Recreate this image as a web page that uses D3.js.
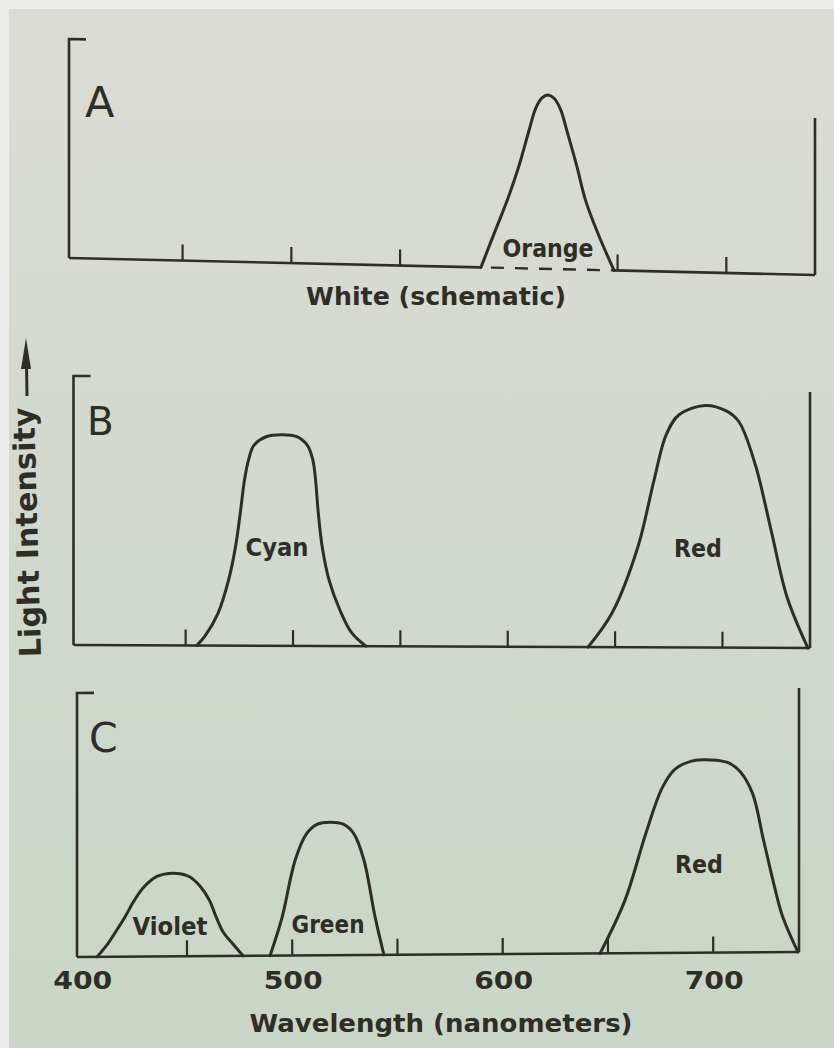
<!DOCTYPE html>
<html>
<head>
<meta charset="utf-8">
<script src="https://cdn.jsdelivr.net/npm/d3@7"></script>
<style>
  html, body { margin: 0; padding: 0; background: #d4d9cf; }
  svg { display: block; }
  text { font-family: "DejaVu Sans", sans-serif; fill: #2e2e27; }
</style>
</head>
<body>
<div id="chart"></div>
<script>
// wavelength axis (nanometers)
var wavelengthDomain = [398, 741];
var ticksA = [450, 500, 550, 650, 700];
var ticksBC = [450, 500, 550, 600, 650, 700];
var wavelengthLabels = [400, 500, 600, 700];

// curves: [wavelength nm, intensity in % of panel height]
var orangeA = [[587.4, 0], [593.9, 16.7], [599.8, 31.7], [604.9, 46.8], [609.5, 63], [612.5, 73],
  [615.5, 78], [618.2, 79.4], [621, 78], [624, 73], [627, 63], [631.6, 46.8], [635.5, 31.7],
  [641.2, 16.7], [648.6, 0]];
var cyanB = [[455.4, 0], [459.2, 3.5], [465.3, 12], [470.3, 24.6], [473.5, 37], [475.7, 49.5],
  [477.7, 62], [479.5, 69], [482, 74.5], [488, 77.8], [495.1, 78.5], [502, 77.8], [507, 74.5],
  [509.5, 69], [510.7, 62], [512, 49.5], [513.8, 37], [517, 24.6], [522, 13.5], [527.5, 5],
  [534.2, 0]];
var redB = [[637.6, 0], [648.8, 12.7], [660.9, 37.5], [668.4, 62.3], [674, 79], [680, 86.5],
  [692.1, 90], [702, 88], [707.9, 84], [715.4, 68.4], [722.9, 43.7], [730.3, 18.9], [740, 0]];
var violetC = [[407.5, 0], [412.7, 5], [416, 9], [420.8, 15], [425, 21], [430, 26.5], [436, 30.3],
  [443.6, 31.5], [451, 30.3], [456.5, 26.5], [461, 21], [464, 15], [467.5, 9], [471.6, 5],
  [476.9, 0]];
var greenC = [[489.7, 0], [495.4, 14.4], [501.6, 36], [507, 46], [512, 49.6], [518.2, 50.4],
  [524.5, 49.6], [529.5, 46], [534.3, 36], [539.6, 14.4], [543.8, 0]];
var redC = [[646.5, 0], [658.3, 20], [668.3, 45.5], [676, 62.5], [682, 69.5], [690, 72.6],
  [699, 73], [707, 72], [713, 68.5], [719, 60], [724, 43], [729, 26], [733, 14], [740.5, 0]];

var svgWidth = 834;
var svgHeight = 1048;
var ink = "#2e2e27";

var svg = d3.select("#chart")
  .append("svg")
    .attr("width", svgWidth)
    .attr("height", svgHeight);

// paper
var grad = svg.append("defs").append("linearGradient")
  .attr("id", "paper").attr("x1", 0).attr("y1", 0).attr("x2", 0).attr("y2", 1);
grad.append("stop").attr("offset", "0%").attr("stop-color", "#dbdcd6");
grad.append("stop").attr("offset", "45%").attr("stop-color", "#d3d9cf");
grad.append("stop").attr("offset", "100%").attr("stop-color", "#cad5c7");
svg.append("rect").attr("width", svgWidth).attr("height", svgHeight).attr("fill", "url(#paper)");
svg.append("rect").attr("width", svgWidth).attr("height", 9).attr("fill", "#ececea");
svg.append("rect").attr("width", 9).attr("height", svgHeight).attr("fill", "#ececea");

var panels = [
  {name: "A", x0: 69, x1: 815, base0: 258, base1: 275, top: 39, topRight: 118, ticks: ticksA,
    curves: [orangeA], dashed: orangeA,
    letter: {x: 85, y: 117, size: 43}},
  {name: "B", x0: 73.5, x1: 810, base0: 645, base1: 648, top: 376, topRight: 392, ticks: ticksBC,
    curves: [cyanB, redB], dashed: null,
    letter: {x: 87, y: 435, size: 39}},
  {name: "C", x0: 77, x1: 799, base0: 957, base1: 952, top: 693, topRight: 688, ticks: ticksBC,
    curves: [violetC, greenC, redC], dashed: null,
    letter: {x: 89, y: 752, size: 41}}
];

panels.forEach(function(p) {
  var w = p.x1 - p.x0;
  var h = p.base0 - p.top;
  var x = d3.scaleLinear().domain(wavelengthDomain).range([0, w]);
  var y = d3.scaleLinear().domain([0, 100]).range([0, -h]);
  var tilt = Math.atan((p.base1 - p.base0) / w) * 180 / Math.PI;

  var g = svg.append("g")
    .attr("transform", `translate(${p.x0}, ${p.base0}) skewY(${tilt})`);

  // bracket on the left, right edge
  g.append("path")
    .attr("d", `M17,${-h} H0 V0`)
    .attr("fill", "none").attr("stroke", ink).attr("stroke-width", 2.6);
  g.append("line")
    .attr("x1", w).attr("x2", w)
    .attr("y1", 0).attr("y2", p.topRight - p.base1)
    .attr("stroke", ink).attr("stroke-width", 2.6);

  // baseline (dashed under the orange band in A)
  if (p.dashed) {
    var a = p.dashed[0][0], b = p.dashed[p.dashed.length - 1][0];
    [[wavelengthDomain[0], a], [b, wavelengthDomain[1]]].forEach(function(s) {
      g.append("line").attr("x1", x(s[0])).attr("x2", x(s[1])).attr("y1", 0).attr("y2", 0)
        .attr("stroke", ink).attr("stroke-width", 2.6);
    });
    g.append("line").attr("x1", x(a) + 10).attr("x2", x(b)).attr("y1", 0).attr("y2", 0)
      .attr("stroke", ink).attr("stroke-width", 2.4).attr("stroke-dasharray", "13,11");
  } else {
    g.append("line").attr("x1", 0).attr("x2", w).attr("y1", 0).attr("y2", 0)
      .attr("stroke", ink).attr("stroke-width", 2.6);
  }

  // ticks pointing up
  var axis = d3.axisBottom(x).tickValues(p.ticks).tickSize(-16).tickFormat("");
  var ag = g.append("g").call(axis);
  ag.select(".domain").remove();
  ag.selectAll(".tick line").attr("stroke", ink).attr("stroke-width", 2.2);

  var line = d3.line()
    .x(d => x(d[0]))
    .y(d => y(d[1]))
    .curve(d3.curveCatmullRom.alpha(0.5));
  p.curves.forEach(function(c) {
    g.append("path")
      .attr("d", line(c))
      .attr("fill", "none")
      .attr("stroke", ink)
      .attr("stroke-width", 3)
      .attr("stroke-linejoin", "round")
      .attr("stroke-linecap", "round");
  });

  svg.append("text")
    .attr("x", p.letter.x).attr("y", p.letter.y)
    .attr("font-size", p.letter.size)
    .text(p.name);

  p.xScale = x;
});

// curve names
var names = [
  {text: "Orange", x: 548, y: 257, len: 91},
  {text: "White (schematic)", x: 436, y: 305, len: 260},
  {text: "Cyan", x: 277, y: 556, len: 63},
  {text: "Red", x: 698, y: 557, len: 48},
  {text: "Violet", x: 170, y: 935, len: 75},
  {text: "Green", x: 328, y: 933, len: 73},
  {text: "Red", x: 699, y: 873, len: 48},
  {text: "Wavelength (nanometers)", x: 441, y: 1032, len: 383}
];
svg.selectAll(".name")
  .data(names)
  .enter()
  .append("text")
    .attr("class", "name")
    .attr("x", d => d.x)
    .attr("y", d => d.y)
    .attr("text-anchor", "middle")
    .attr("font-size", 25)
    .attr("font-weight", "bold")
    .attr("textLength", d => d.len)
    .attr("lengthAdjust", "spacingAndGlyphs")
    .text(d => d.text);

// wavelength numbers under panel C
var pc = panels[2];
var labelAxis = d3.axisBottom(pc.xScale).tickValues(wavelengthLabels).tickSize(0).tickFormat(d3.format("d"));
var lg = svg.append("g")
  .attr("transform", `translate(${pc.x0 + 1}, 989)`)
  .call(labelAxis);
lg.select(".domain").remove();
lg.selectAll("text")
  .attr("y", 0).attr("dy", null)
  .attr("font-family", "DejaVu Sans, sans-serif")
  .attr("font-size", 25)
  .attr("font-weight", "bold")
  .attr("fill", ink)
  .attr("textLength", 59)
  .attr("lengthAdjust", "spacingAndGlyphs");

// y label with arrow
svg.append("text")
  .attr("transform", "translate(41, 657) rotate(-91.6)")
  .attr("font-size", 30)
  .attr("font-weight", "bold")
  .attr("textLength", 250)
  .attr("lengthAdjust", "spacing")
  .text("Light Intensity");
svg.append("line")
  .attr("x1", 27).attr("x2", 26.5).attr("y1", 396).attr("y2", 364)
  .attr("stroke", ink).attr("stroke-width", 3);
svg.append("path")
  .attr("d", "M26,338 L21,369 L31,369 Z")
  .attr("fill", ink);
</script>
</body>
</html>
